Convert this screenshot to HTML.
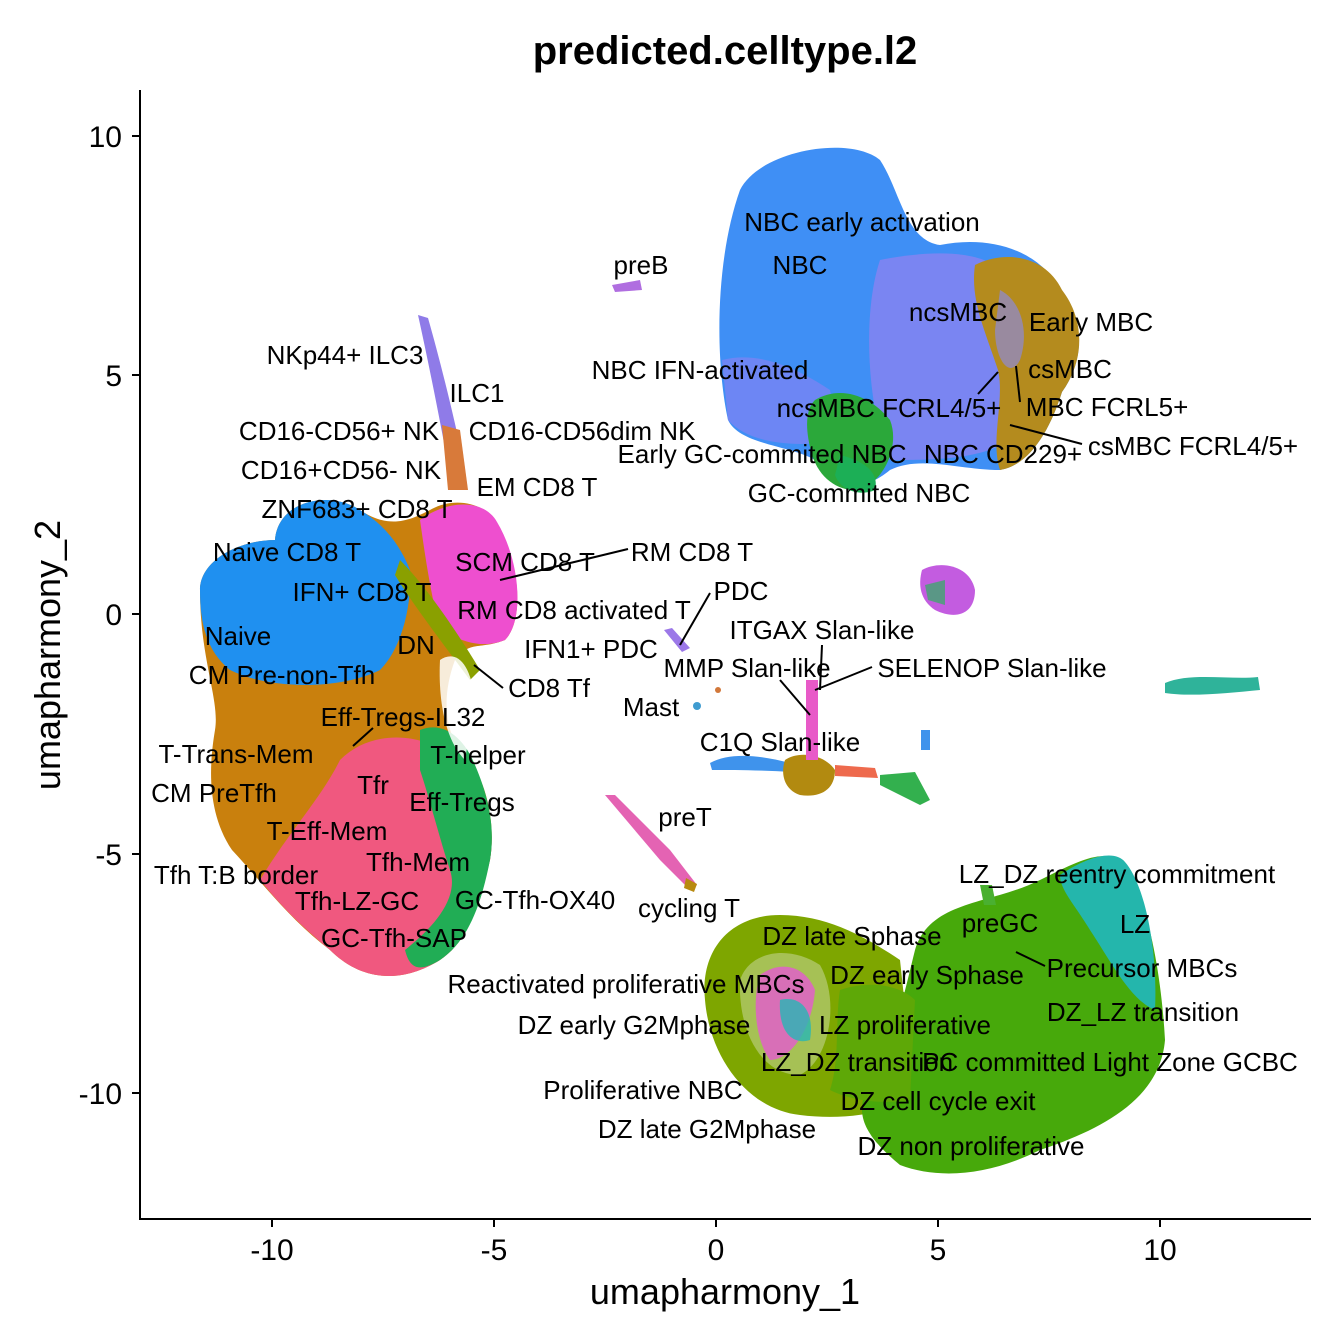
<!DOCTYPE html>
<html><head><meta charset="utf-8"><style>
html,body{margin:0;padding:0;background:#fff}
svg{display:block}
text{font-family:"Liberation Sans",Arial,sans-serif;fill:#000}
.l{font-size:26px;text-anchor:middle}
.t{font-size:30px}
</style></head><body>
<svg width="1344" height="1344" viewBox="0 0 1344 1344" xmlns="http://www.w3.org/2000/svg">
<rect width="1344" height="1344" fill="#fff"/>
<!-- NBC blob -->
<path d="M740,190 C760,150 850,135 880,160 C900,190 905,240 940,245 C990,235 1040,250 1060,290 C1085,320 1085,360 1062,392 C1050,430 1030,465 1000,470 C960,470 920,455 890,470 C860,495 830,490 815,460 C790,445 740,445 728,420 C715,360 715,260 740,190 Z" fill="#3f8ff5"/>
<path d="M722,360 C760,350 800,370 830,390 L840,440 C800,448 750,445 728,420 Z" fill="#6d86f4"/>
<path d="M880,260 C930,250 980,250 1000,270 L1010,440 C980,460 930,460 890,460 C870,420 860,320 880,260 Z" fill="#7a85f2"/>
<path d="M975,265 C1005,250 1045,255 1062,290 C1085,320 1085,360 1062,392 C1050,430 1030,465 1000,470 C990,440 1005,400 998,370 C985,330 970,300 975,265 Z" fill="#b48b1e"/>
<path d="M1000,290 C1020,300 1030,330 1020,360 C1010,380 995,360 995,330 Z" fill="#8d8ad6" opacity="0.7"/>
<path d="M815,400 C840,385 870,395 890,420 C900,445 885,480 860,490 C840,492 820,480 812,455 C805,430 805,410 815,400 Z" fill="#2ba83a"/>
<path d="M840,455 C860,460 880,470 875,490 C860,497 840,490 835,475 Z" fill="#1caf56"/>
<!-- T blob -->
<path d="M200,590 C200,560 240,540 275,540 C278,500 330,490 360,510 C390,530 410,520 430,510 C450,498 480,500 495,520 C520,560 525,620 505,640 C480,650 470,640 455,660 C440,700 445,740 470,760 C490,790 495,830 490,860 C480,900 470,940 440,960 C400,985 360,980 330,950 C290,920 260,880 232,850 C205,810 210,760 215,730 C220,700 200,660 200,590 Z" fill="#c9800d"/>
<path d="M200,590 C200,560 240,540 275,540 C278,500 330,490 360,510 C385,525 400,545 410,570 C412,610 400,650 380,670 C340,690 270,690 230,670 C205,650 200,620 200,590 Z" fill="#1f90f0"/>
<path d="M420,520 C450,498 485,500 497,522 C520,560 525,620 505,640 C480,650 460,640 440,630 C430,590 425,555 420,520 Z" fill="#ee4fcf"/>
<path d="M400,560 C420,580 450,620 480,670 L470,680 C440,640 410,600 395,575 Z" fill="#8aa000"/>
<path d="M260,880 C290,830 320,800 340,760 C370,730 420,730 460,760 C490,790 495,830 490,860 C480,900 470,940 440,960 C400,985 360,980 330,950 C300,925 280,905 260,880 Z" fill="#f0587f"/>
<path d="M420,730 C445,720 465,740 475,765 C490,800 495,830 490,860 C482,900 470,940 440,960 C420,972 410,970 405,950 C430,930 460,900 450,870 C440,840 430,800 420,770 Z" fill="#21ad55"/>
<path d="M440,660 C455,650 470,660 475,700 L465,760 C445,740 438,700 440,660 Z" fill="#ffffff" opacity="0.85"/>
<!-- ILC strand -->
<path d="M418,315 L428,318 C440,360 455,420 465,470 L450,475 C440,420 428,360 418,315 Z" fill="#8f7be8"/>
<path d="M442,425 L460,430 L468,490 L448,490 Z" fill="#d87a3a"/>
<!-- GC blob -->
<path d="M705,1000 C700,950 730,915 780,915 C830,915 870,940 900,960 L915,1100 C880,1115 840,1120 800,1115 C750,1110 710,1060 705,1000 Z" fill="#7ea600"/>
<path d="M740,980 C750,950 790,945 820,965 C840,1000 830,1060 800,1075 C760,1075 738,1030 740,980 Z" fill="#c7d79a" opacity="0.55"/>
<path d="M760,975 C780,960 805,965 815,990 C812,1030 790,1060 770,1060 C755,1040 752,1000 760,975 Z" fill="#e853d8" opacity="0.75"/>
<path d="M780,1000 C800,995 815,1010 810,1040 C795,1045 778,1035 780,1000 Z" fill="#27b7b5" opacity="0.8"/>
<path d="M915,950 C930,900 990,905 1040,880 C1080,860 1100,850 1120,860 C1140,880 1160,950 1165,1040 C1160,1100 1100,1130 1040,1150 C990,1175 940,1180 900,1165 C870,1140 850,1115 870,1085 C895,1040 905,990 915,950 Z" fill="#47a90b"/>
<path d="M840,990 C870,980 900,985 915,1000 L910,1100 C880,1105 850,1100 830,1090 C840,1060 835,1020 840,990 Z" fill="#5ea807"/>
<path d="M1060,875 C1090,855 1115,850 1125,862 C1145,885 1158,950 1155,1010 C1130,1000 1110,960 1090,930 C1075,905 1060,890 1060,875 Z" fill="#24b6ac"/>
<!-- small clusters -->
<path d="M612,285 L640,280 L642,290 L615,292 Z" fill="#b06ee0"/>
<path d="M922,570 C940,560 970,565 975,590 C975,615 955,620 935,610 C920,600 918,585 922,570 Z" fill="#c35ce0"/>
<path d="M925,585 L945,580 L945,605 L928,600 Z" fill="#2eb060" opacity="0.7"/>
<path d="M1165,683 C1190,672 1230,680 1258,677 L1260,690 C1230,693 1190,697 1165,693 Z" fill="#2fb39a"/>
<path d="M664,630 L672,628 L690,648 L682,652 Z" fill="#9c78e8"/>
<circle cx="697" cy="706" r="4" fill="#3f9cd0"/>
<circle cx="718" cy="690" r="3" fill="#d2783a"/>
<path d="M710,763 C730,752 760,755 790,763 L790,772 C760,770 730,770 712,770 Z" fill="#3f93ec"/>
<path d="M785,760 C800,750 825,755 835,770 C835,790 820,798 800,795 C785,790 780,775 785,760 Z" fill="#b28a10"/>
<path d="M835,765 L875,768 L878,778 L835,776 Z" fill="#ee6a4d"/>
<path d="M806,680 L818,680 L818,760 L806,760 Z" fill="#e85ac8"/>
<path d="M880,775 L915,772 L930,800 L920,805 L880,785 Z" fill="#33b04e"/>
<path d="M921,730 L930,730 L930,750 L921,750 Z" fill="#3f93ec"/>
<path d="M605,795 L615,795 L670,850 L697,885 L690,890 L660,860 Z" fill="#e463b3"/>
<path d="M686,878 L697,884 L694,892 L684,888 Z" fill="#b88a10"/>
<path d="M980,885 L992,885 L996,905 L984,905 Z" fill="#4ab030"/>
<!-- axes -->
<g stroke="#000" stroke-width="2" fill="none">
<line x1="140" y1="90" x2="140" y2="1220"/>
<line x1="139" y1="1219" x2="1311" y2="1219"/>
<line x1="272" y1="1219" x2="272" y2="1227"/><line x1="494" y1="1219" x2="494" y2="1227"/><line x1="716" y1="1219" x2="716" y2="1227"/><line x1="938" y1="1219" x2="938" y2="1227"/><line x1="1160" y1="1219" x2="1160" y2="1227"/>
<line x1="132" y1="136" x2="140" y2="136"/><line x1="132" y1="375" x2="140" y2="375"/><line x1="132" y1="614" x2="140" y2="614"/><line x1="132" y1="854" x2="140" y2="854"/><line x1="132" y1="1093" x2="140" y2="1093"/>
</g>
<g class="t" text-anchor="middle">
<text x="272" y="1260">-10</text><text x="494" y="1260">-5</text><text x="716" y="1260">0</text><text x="938" y="1260">5</text><text x="1160" y="1260">10</text>
</g>
<g class="t" text-anchor="end">
<text x="122" y="147">10</text><text x="122" y="386">5</text><text x="122" y="625">0</text><text x="122" y="865">-5</text><text x="122" y="1104">-10</text>
</g>
<text x="725" y="1304" text-anchor="middle" style="font-size:36px">umapharmony_1</text>
<text transform="translate(60,655) rotate(-90)" text-anchor="middle" style="font-size:36px">umapharmony_2</text>
<text x="725" y="64" text-anchor="middle" style="font-size:40px;font-weight:bold">predicted.celltype.l2</text>
<!-- leader lines -->
<g stroke="#000" stroke-width="2">
<line x1="500" y1="580" x2="628" y2="549"/>
<line x1="680" y1="645" x2="710" y2="593"/>
<line x1="474" y1="665" x2="503" y2="688"/>
<line x1="353" y1="746" x2="373" y2="728"/>
<line x1="780" y1="680" x2="810" y2="715"/>
<line x1="815" y1="690" x2="872" y2="667"/>
<line x1="822" y1="645" x2="820" y2="690"/>
<line x1="978" y1="394" x2="998" y2="372"/>
<line x1="1016" y1="366" x2="1020" y2="402"/>
<line x1="1010" y1="425" x2="1082" y2="444"/>
<line x1="1016" y1="952" x2="1045" y2="966"/>
</g>
<g class="l">
<text x="862" y="231">NBC early activation</text>
<text x="641" y="274">preB</text>
<text x="800" y="274">NBC</text>
<text x="958" y="321">ncsMBC</text>
<text x="1091" y="331">Early MBC</text>
<text x="345" y="364">NKp44+ ILC3</text>
<text x="700" y="379">NBC IFN-activated</text>
<text x="1070" y="378">csMBC</text>
<text x="477" y="402">ILC1</text>
<text x="889" y="417">ncsMBC FCRL4/5+</text>
<text x="1107" y="416">MBC FCRL5+</text>
<text x="339" y="440">CD16-CD56+ NK</text>
<text x="582" y="440">CD16-CD56dim NK</text>
<text x="1193" y="455">csMBC FCRL4/5+</text>
<text x="762" y="463">Early GC-commited NBC</text>
<text x="1003" y="463">NBC CD229+</text>
<text x="341" y="479">CD16+CD56- NK</text>
<text x="537" y="496">EM CD8 T</text>
<text x="859" y="502">GC-commited NBC</text>
<text x="357" y="518">ZNF683+ CD8 T</text>
<text x="692" y="561">RM CD8 T</text>
<text x="287" y="561">Naive CD8 T</text>
<text x="525" y="571">SCM CD8 T</text>
<text x="741" y="600">PDC</text>
<text x="362" y="601">IFN+ CD8 T</text>
<text x="574" y="619">RM CD8 activated T</text>
<text x="822" y="639">ITGAX Slan-like</text>
<text x="238" y="645">Naive</text>
<text x="416" y="654">DN</text>
<text x="591" y="658">IFN1+ PDC</text>
<text x="747" y="677">MMP Slan-like</text>
<text x="992" y="677">SELENOP Slan-like</text>
<text x="282" y="684">CM Pre-non-Tfh</text>
<text x="549" y="697">CD8 Tf</text>
<text x="651" y="716">Mast</text>
<text x="403" y="726">Eff-Tregs-IL32</text>
<text x="780" y="751">C1Q Slan-like</text>
<text x="236" y="763">T-Trans-Mem</text>
<text x="478" y="764">T-helper</text>
<text x="373" y="794">Tfr</text>
<text x="214" y="802">CM PreTfh</text>
<text x="462" y="811">Eff-Tregs</text>
<text x="685" y="826">preT</text>
<text x="327" y="840">T-Eff-Mem</text>
<text x="418" y="871">Tfh-Mem</text>
<text x="236" y="884">Tfh T:B border</text>
<text x="1117" y="883">LZ_DZ reentry commitment</text>
<text x="357" y="910">Tfh-LZ-GC</text>
<text x="535" y="909">GC-Tfh-OX40</text>
<text x="689" y="917">cycling T</text>
<text x="1000" y="932">preGC</text>
<text x="1135" y="933">LZ</text>
<text x="852" y="945">DZ late Sphase</text>
<text x="394" y="947">GC-Tfh-SAP</text>
<text x="1142" y="977">Precursor MBCs</text>
<text x="927" y="984">DZ early Sphase</text>
<text x="626" y="993">Reactivated proliferative MBCs</text>
<text x="1143" y="1021">DZ_LZ transition</text>
<text x="634" y="1034">DZ early G2Mphase</text>
<text x="905" y="1034">LZ proliferative</text>
<text x="857" y="1071">LZ_DZ transition</text>
<text x="1110" y="1071">PC committed Light Zone GCBC</text>
<text x="643" y="1099">Proliferative NBC</text>
<text x="938" y="1110">DZ cell cycle exit</text>
<text x="707" y="1138">DZ late G2Mphase</text>
<text x="971" y="1155">DZ non proliferative</text>
</g>
</svg>
</body></html>
